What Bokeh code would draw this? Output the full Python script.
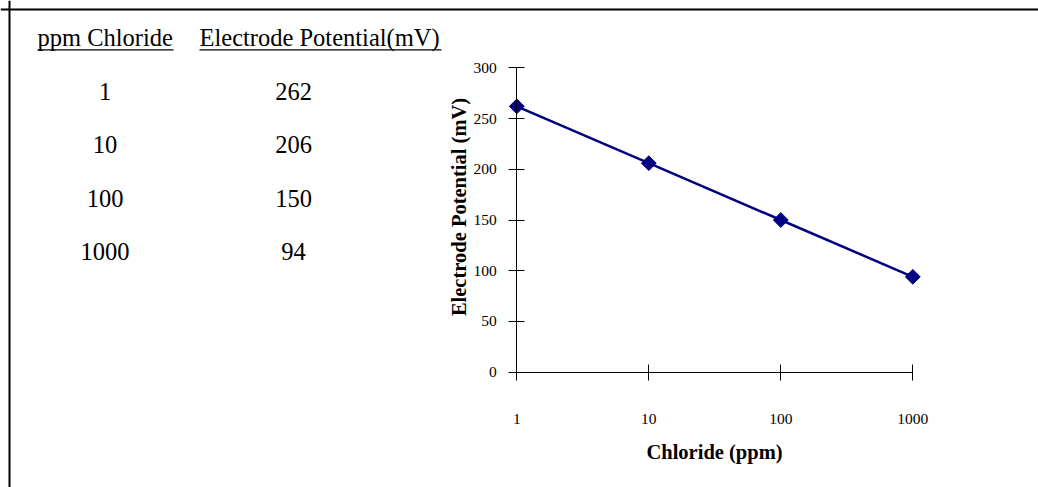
import math
from bokeh.plotting import figure
from bokeh.models import Range1d, LogAxis, LinearAxis, FixedTicker, Span
from bokeh.core.properties import value
from bokeh.embed import file_html
from bokeh.resources import INLINE

# ---- data ----
chloride_ppm = [1, 10, 100, 1000]
potential_mv = [262, 206, 150, 94]
x_tick_labels = ["1", "10", "100", "1000"]
y_ticks = [0, 50, 100, 150, 200, 250, 300]
table_headers = ["ppm Chloride", "Electrode Potential(mV)"]
x_title = "Chloride (ppm)"
y_title = "Electrode Potential (mV)"

W, H = 1038, 487
# pixel placement of the chart (page coordinates, from top-left)
ax_left_px, ax_right_px = 516.3, 912.3     # x = 1 and x = 1000
ax_bottom_px, ax_top_px = 371.7, 67.3      # y = 0 and y = 300

dec_px = (ax_right_px - ax_left_px) / 3.0
ppu = (ax_bottom_px - ax_top_px) / 300.0


def xd(px):
    return 10 ** ((px - ax_left_px) / dec_px)


def yd(py):
    return (ax_bottom_px - py) / ppu


SERIF = "Liberation Serif"

p = figure(width=W, height=H, x_axis_type="log",
           x_range=Range1d(xd(0), xd(W)), y_range=Range1d(yd(H), yd(0)),
           x_axis_location=None, y_axis_location=None, min_border=0,
           toolbar_location=None, output_backend="svg",
           outline_line_color=None, background_fill_color="white")
p.grid.visible = False

NAVY = "#000080"
p.line(chloride_ppm, potential_mv, line_color=NAVY, line_width=2.5)
p.scatter(chloride_ppm, potential_mv, marker="square", angle=math.pi / 4,
          size=10.5, fill_color=NAVY, line_color=NAVY)

xaxis = LogAxis(fixed_location=0, bounds=(chloride_ppm[0], chloride_ppm[-1]),
                ticker=FixedTicker(ticks=chloride_ppm, minor_ticks=[]),
                major_label_overrides={v: s for v, s in zip(chloride_ppm, x_tick_labels)},
                axis_label=x_title)
yaxis = LinearAxis(fixed_location=1, bounds=(y_ticks[0], y_ticks[-1]),
                   ticker=FixedTicker(ticks=y_ticks, minor_ticks=[]))
for ax in (xaxis, yaxis):
    ax.axis_line_color = "black"
    ax.axis_line_width = 1
    ax.major_tick_line_color = "black"
    ax.major_tick_in = 8
    ax.major_tick_out = 8
    ax.minor_tick_line_color = None
    ax.major_label_text_font = SERIF
    ax.major_label_text_font_size = "15.5px"
    ax.major_label_text_color = "black"
    ax.axis_label_text_font = SERIF
    ax.axis_label_text_font_size = "20.5px"
    ax.axis_label_text_font_style = "bold"
    ax.axis_label_text_color = "black"
xaxis.major_label_standoff = 34
xaxis.axis_label_standoff = 13
yaxis.major_label_standoff = 12
p.add_layout(xaxis, "below")
p.add_layout(yaxis, "left")

# y axis title (rotated), placed to match the reference
p.text(x=[xd(458)], y=[yd(206.5)], text=[y_title], angle=math.pi / 2,
       text_font=value(SERIF), text_font_size="20.5px", text_font_style="bold",
       text_align="center", text_baseline="alphabetic", text_color="black")

# ---- data table on the left ----
hdr_x_px = [37, 199]
hdr_w_px = [136, 242]
hdr_base_px = 37
p.text(x=[xd(v) for v in hdr_x_px], y=[yd(hdr_base_px)] * 2, text=table_headers,
       text_font=value(SERIF), text_font_size="24.5px", text_align="left",
       text_baseline="alphabetic", text_color="black")
ul_y = yd(49.3)
p.segment(x0=[xd(v) for v in hdr_x_px],
          x1=[xd(v + w) for v, w in zip(hdr_x_px, hdr_w_px)],
          y0=[ul_y] * 2, y1=[ul_y] * 2, line_color="black", line_width=1.3)

row0_px, row_step_px = 91, 53.3
row_y = [yd(row0_px + i * row_step_px) for i in range(len(chloride_ppm))]
p.text(x=[xd(104.5)] * len(chloride_ppm), y=row_y, text=[str(c) for c in chloride_ppm],
       text_font=value(SERIF), text_font_size="24.5px", text_align="center",
       text_baseline="alphabetic", text_color="black")
p.text(x=[xd(293)] * len(potential_mv), y=row_y, text=[str(v) for v in potential_mv],
       text_font=value(SERIF), text_font_size="24.5px", text_align="center",
       text_baseline="alphabetic", text_color="black")

# ---- border (top and left) ----
p.add_layout(Span(location=H - 9, dimension="width", location_units="screen",
                  line_color="black", line_width=2))
p.add_layout(Span(location=9, dimension="height", location_units="screen",
                  line_color="black", line_width=2))

open("out.html", "w").write(file_html(p, INLINE))
